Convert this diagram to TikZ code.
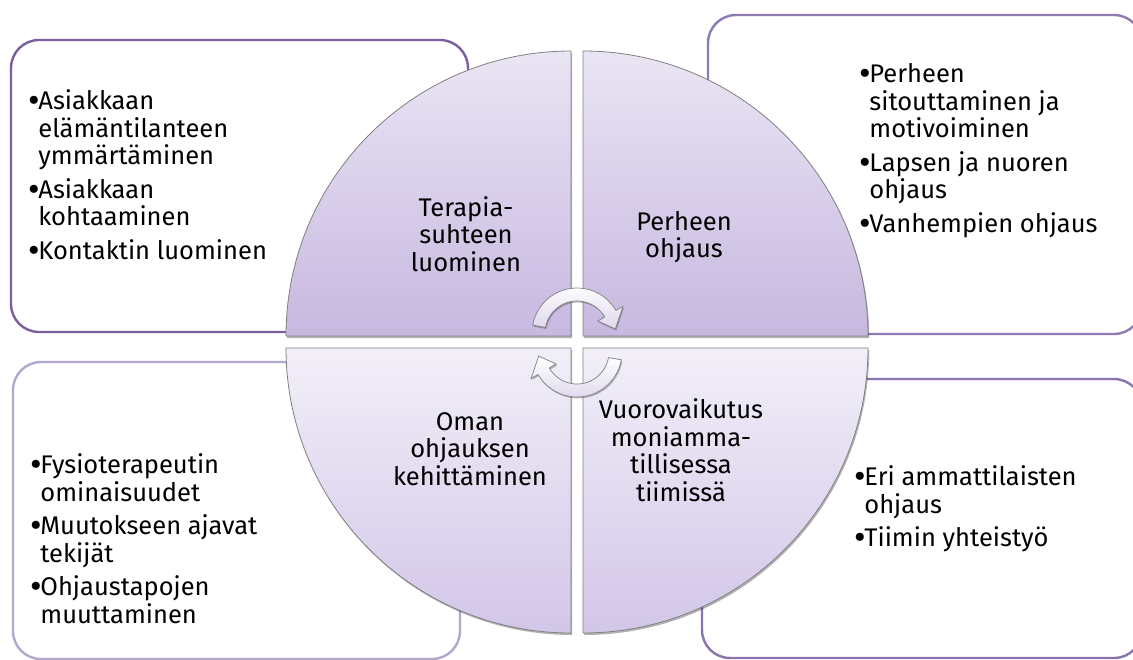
\documentclass[tikz,border=0pt]{standalone}
\usepackage{fontspec}
\setmainfont{Fira Sans}
\usetikzlibrary{shadows}

\definecolor{frameA}{HTML}{7A5F9F}
\definecolor{frameB}{HTML}{8E7AB5}
\definecolor{frameC}{HTML}{B3A6CF}
\definecolor{frameD}{HTML}{8A74B0}
\definecolor{upTop}{HTML}{EAE5F4}
\definecolor{upBot}{HTML}{C7B8E0}
\definecolor{loTop}{HTML}{F2EFF8}
\definecolor{loBot}{HTML}{D2C6E8}
\definecolor{edge}{HTML}{808080}
\definecolor{turnLow}{HTML}{DED7EC}

\newcommand{\bul}{\makebox[0.4em][l]{\raisebox{-0.12em}{\scalebox{1.4}{•}}}}
\newcommand{\hang}{\hspace*{0.4em}}

\begin{document}
\begin{tikzpicture}[x=1pt,y=-1pt,
  frame/.style={rounded corners=28pt, line width=2.4pt},
  sector/.style={draw=edge, line width=0.8pt,
    drop shadow={shadow xshift=1.2pt, shadow yshift=-2pt, opacity=0.3, fill=black}},
  upper/.style={sector, top color=upTop, bottom color=upBot},
  lower/.style={sector, top color=loTop, bottom color=loBot},
  turn/.style={draw=edge, line width=0.7pt, top color=white, bottom color=turnLow,
    drop shadow={shadow xshift=1pt, shadow yshift=-1.5pt, opacity=0.25, fill=black}},
  bullets/.style={anchor=north west, inner sep=0pt, align=left,
    font=\fontsize{25.5}{27.5}\selectfont},
  label/.style={anchor=center, inner sep=0pt, align=center,
    font=\fontsize{25.5}{27.5}\selectfont}]

\useasboundingbox (0,0) rectangle (1133,659);
\fill[white] (0,0) rectangle (1133,659);

% outer text panels
\draw[frame, draw=frameA] (11,40) rectangle (468,332);
\draw[frame, draw=frameB] (708,15) rectangle (1142,334);
\draw[frame, draw=frameC] (13,362) rectangle (460,659);
\draw[frame, draw=frameD] (702,379) rectangle (1142,658);

% four quarter sectors of the central disc
\path[upper] (571,336) -- (286,336) arc[start angle=180, end angle=270, radius=285] -- cycle;
\path[upper] (583,336) -- (583,51) arc[start angle=270, end angle=360, radius=285] -- cycle;
\path[lower] (571,348) -- (571,633) arc[start angle=90, end angle=180, radius=285] -- cycle;
\path[lower] (583,348) -- (868,348) arc[start angle=0, end angle=90, radius=285] -- cycle;

% sector titles
\node[label] (t1) at (466,234) {Terapia-\\suhteen\\luominen};
\node[label] (t2) at (684,237) {Perheen\\ohjaus};
\node[label] (t3) at (470,449) {Oman\\ohjauksen\\kehittäminen};
\node[label] (t4) at (681,450) {Vuorovaikutus\\moniamma-\\tillisessa\\tiimissä};

% circular arrows in the middle
\begin{scope}[shift={(577,333)}, yscale=-1]
  \path[turn] (170:32) -- (170:45) arc[start angle=170, end angle=30, radius=45]
    -- (30:53) -- (6:38.5) -- (30:24) -- (30:32)
    arc[start angle=30, end angle=170, radius=32] -- cycle;
\end{scope}
\begin{scope}[shift={(577,352)}, yscale=-1, rotate=180]
  \path[turn] (170:32) -- (170:45) arc[start angle=170, end angle=30, radius=45]
    -- (30:53) -- (6:38.5) -- (30:24) -- (30:32)
    arc[start angle=30, end angle=170, radius=32] -- cycle;
\end{scope}

% bullet lists
\node[bullets] (b1) at (28,89.5) {\bul Asiakkaan\\\hang elämäntilanteen\\\hang ymmärtäminen\\[6pt]
  \bul Asiakkaan\\\hang kohtaaminen\\[6pt]
  \bul Kontaktin luominen};
\node[bullets] (b2) at (859,63.5) {\bul Perheen\\\hang sitouttaminen ja\\\hang motivoiminen\\[6pt]
  \bul Lapsen ja nuoren\\\hang ohjaus\\[6pt]
  \bul Vanhempien ohjaus};
\node[bullets] (b3) at (30,453.5) {\bul Fysioterapeutin\\\hang ominaisuudet\\[6pt]
  \bul Muutokseen ajavat\\\hang tekijät\\[6pt]
  \bul Ohjaustapojen\\\hang muuttaminen};
\node[bullets] (b4) at (854,465.5) {\bul Eri ammattilaisten\\\hang ohjaus\\[6pt]
  \bul Tiimin yhteistyö};

\end{tikzpicture}
\end{document}
